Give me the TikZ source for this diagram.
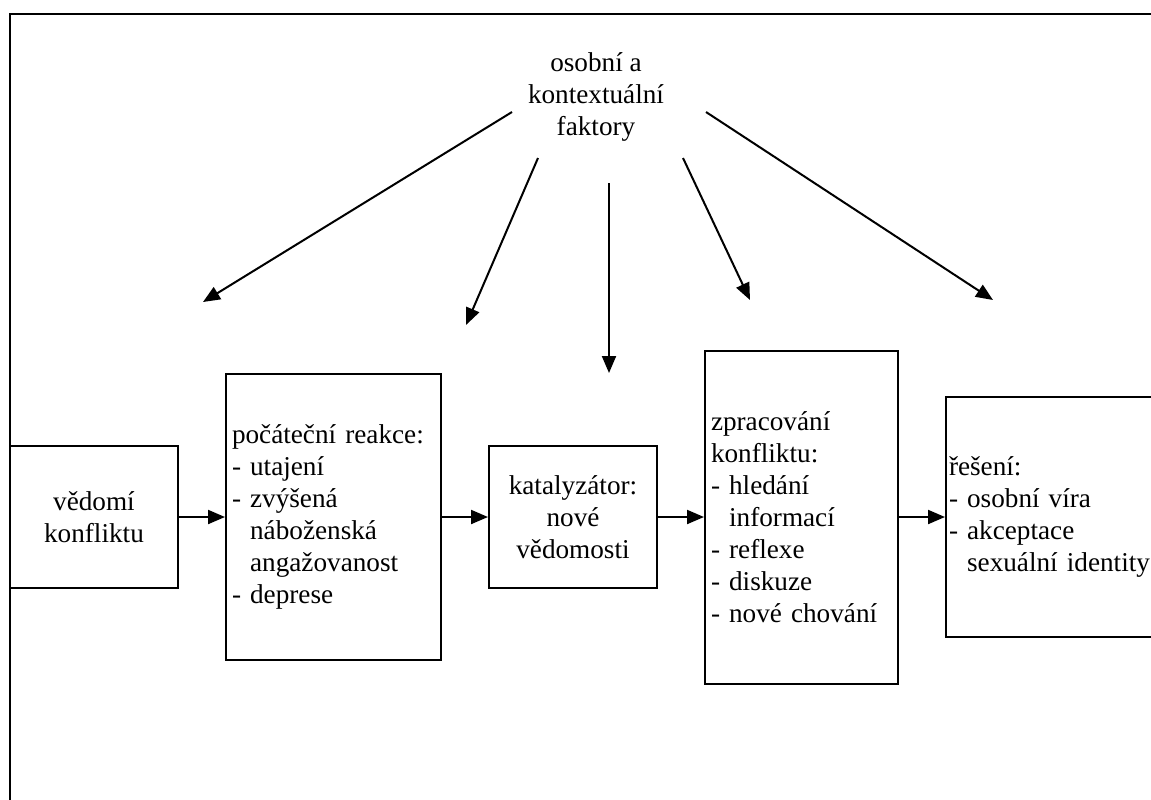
\documentclass[tikz,border=0pt]{standalone}
\usepackage{fontspec}
\setmainfont{Liberation Serif}
\usetikzlibrary{arrows.meta, positioning}

\begin{document}
\begin{tikzpicture}[
        x=0.5pt, y=-0.5pt,
        node distance=23pt,
        font=\fontsize{13.6pt}{16pt}\selectfont,
        stage/.style={rectangle, draw=black, line width=1pt, inner sep=3pt, fill=white},
        centerbox/.style={stage, align=center, minimum width=84pt, minimum height=71pt},
        listbox/.style={stage, align=left},
        arrow/.style={-{Triangle[length=8.5pt, width=7pt]}, line width=1pt}
    ]

    \clip (0,0) rectangle (1151,799);

    % Frame
    \draw[line width=1pt] (10,830) -- (10,14) -- (1180,14);

    % Nodes
    \node[align=center] (factors) at (596,97) {osobní a\\kontextuální\\faktory};

    \node[centerbox] (aware) at (94,517) {vědomí\\konfliktu};

    \node[listbox, right=of aware, text width=101.5pt, minimum height=143pt] (reaction)
        {počáteční reakce:\\- utajení\\- zvýšená\\\hphantom{- }náboženská\\\hphantom{- }angažovanost\\- deprese};

    \node[centerbox, right=of reaction] (catalyst) {katalyzátor:\\nové\\vědomosti};

    \node[listbox, right=of catalyst, text width=90.5pt, minimum height=166.5pt] (process)
        {zpracování\\konfliktu:\\- hledání\\\hphantom{- }informací\\- reflexe\\- diskuze\\- nové chování};

    \node[listbox, right=of process, inner xsep=1.5pt, text width=104.5pt, minimum height=120pt] (solution)
        {řešení:\\- osobní víra\\- akceptace\\\hphantom{- }sexuální identity};

    % Arrow ends
    \coordinate (s1) at (512,112);
    \coordinate (s2) at (538,158);
    \coordinate (s3) at (609,183);
    \coordinate (s4) at (683,158);
    \coordinate (s5) at (706,112);
    \coordinate (t1) at (203,302);
    \coordinate (t2) at (466,325);
    \coordinate (t3) at (609,373);
    \coordinate (t4) at (750,300);
    \coordinate (t5) at (993,300);

    % Arrows
    \draw[arrow] (aware) -- (reaction);
    \draw[arrow] (reaction) -- (catalyst);
    \draw[arrow] (catalyst) -- (process);
    \draw[arrow] (process) -- (solution);

    \foreach \i in {1,...,5}
        \draw[arrow] (s\i) -- (t\i);

\end{tikzpicture}
\end{document}
